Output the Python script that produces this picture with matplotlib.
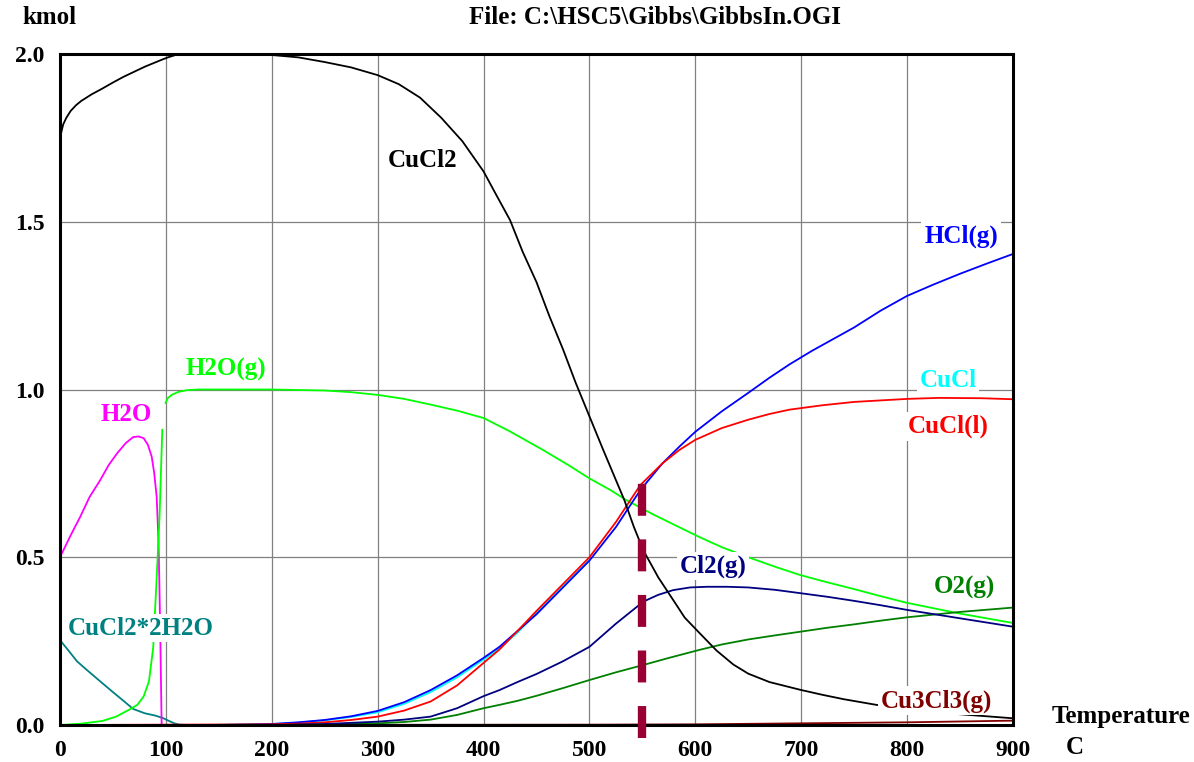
import numpy as np
import matplotlib
matplotlib.use("Agg")
import matplotlib.pyplot as plt

plt.rcParams['font.family'] = ['Liberation Serif', 'DejaVu Serif']
plt.rcParams['font.weight'] = 'bold'
plt.rcParams['lines.scale_dashes'] = False

# CuCl2 (black)
t_cucl2 = [0, 3, 6, 10, 15, 20, 30, 40, 50, 60, 70, 80, 90, 97, 102, 110, 120, 160, 200, 225,
           250, 275, 300, 320, 340, 360, 380, 400, 412, 425, 437, 450, 462, 475, 487, 500, 513,
           525, 533, 542, 551, 565, 579, 590, 604, 620, 636, 650, 670, 699, 720, 740, 771, 800,
           850, 900]
v_cucl2 = [1.75, 1.79, 1.81, 1.83, 1.847, 1.86, 1.88, 1.897, 1.915, 1.932, 1.947, 1.962, 1.975,
           1.984, 1.99, 1.998, 2.0, 2.0, 1.997, 1.99, 1.976, 1.96, 1.937, 1.91, 1.87, 1.81, 1.74,
           1.65, 1.58, 1.505, 1.41, 1.32, 1.22, 1.12, 1.02, 0.92, 0.82, 0.73, 0.67, 0.59, 0.52,
           0.44, 0.373, 0.32, 0.274, 0.222, 0.18, 0.153, 0.128, 0.105, 0.09, 0.077, 0.06, 0.047,
           0.032, 0.02]

# H2O(g) (lime) - two branches around the boiling point
t_h2og = [0, 20, 40, 53, 65, 73, 79, 84, 88, 91, 94, 96.6, np.nan, 99.7, 102, 106, 112, 120, 130,
          150, 200, 250, 275, 300, 325, 350, 375, 400, 425, 456, 480, 500, 520, 535, 560, 580,
          604, 625, 650, 675, 699, 725, 750, 775, 800, 850, 900]
v_h2og = [0, 0.004, 0.012, 0.025, 0.045, 0.06, 0.085, 0.13, 0.23, 0.42, 0.62, 0.88, np.nan, 0.96,
          0.975, 0.985, 0.993, 0.998, 1.0, 1.0, 1.0, 0.997, 0.992, 0.984, 0.972, 0.955, 0.937,
          0.915, 0.875, 0.82, 0.775, 0.735, 0.70, 0.67, 0.628, 0.597, 0.56, 0.53, 0.5, 0.472,
          0.447, 0.425, 0.405, 0.384, 0.364, 0.332, 0.304]

# H2O liquid (magenta)
t_h2o = [0, 10, 19, 28, 38, 46, 54, 62, 69, 74, 79, 83, 86.6, 89, 91.3, 93, 93.8, 94.8, 95.5, 96]
v_h2o = [0.5, 0.565, 0.62, 0.68, 0.73, 0.775, 0.81, 0.84, 0.858, 0.86, 0.855, 0.835, 0.80, 0.75,
         0.68, 0.55, 0.43, 0.25, 0.1, 0.0]

# CuCl2*2H2O (teal)
t_hyd = [0, 8, 16, 25, 38, 50, 60, 69, 80, 90, 97, 103, 108, 113, 120, 900]
v_hyd = [0.253, 0.222, 0.19, 0.165, 0.13, 0.098, 0.072, 0.048, 0.035, 0.028, 0.021, 0.012, 0.005,
         0.001, 0.0, 0.0]

# HCl(g) (blue)
t_hcl = [0, 150, 200, 225, 250, 275, 300, 325, 350, 375, 400, 415, 432, 450, 475, 500, 525, 548,
         569, 585, 600, 625, 650, 670, 689, 710, 730, 750, 775, 800, 825, 850, 875, 900]
v_hcl = [0, 0.0, 0.003, 0.008, 0.015, 0.026, 0.042, 0.068, 0.104, 0.148, 0.2, 0.233, 0.28, 0.33,
         0.41, 0.49, 0.59, 0.70, 0.78, 0.83, 0.874, 0.935, 0.99, 1.035, 1.075, 1.115, 1.15, 1.185,
         1.235, 1.279, 1.313, 1.345, 1.375, 1.404]

# CuCl (cyan)
t_cucl = [150, 200, 225, 250, 275, 300, 325, 350, 375, 400, 415, 432, 450, 475, 500]
v_cucl = [0.001, 0.003, 0.007, 0.014, 0.024, 0.038, 0.063, 0.098, 0.142, 0.195, 0.228, 0.275,
          0.335, 0.412, 0.492]

# CuCl(l) (red)
t_cucll = [0, 200, 225, 250, 275, 300, 325, 350, 375, 400, 415, 432, 450, 475, 500, 525, 548, 569,
           585, 600, 625, 650, 670, 689, 720, 750, 800, 830, 870, 900]
v_cucll = [0, 0.002, 0.004, 0.008, 0.015, 0.025, 0.043, 0.07, 0.118, 0.185, 0.225, 0.28, 0.34,
           0.42, 0.50, 0.605, 0.715, 0.78, 0.82, 0.85, 0.885, 0.91, 0.927, 0.94, 0.953, 0.963,
           0.972, 0.975, 0.974, 0.971]

# Cl2(g) (navy)
t_cl2 = [0, 200, 250, 300, 325, 350, 375, 400, 415, 432, 450, 475, 500, 525, 551, 565, 579, 595,
         611, 630, 650, 675, 699, 725, 750, 775, 800, 850, 900]
v_cl2 = [0, 0.0, 0.003, 0.01, 0.016, 0.025, 0.05, 0.086, 0.104, 0.128, 0.152, 0.19, 0.233, 0.302,
         0.368, 0.388, 0.402, 0.41, 0.412, 0.412, 0.41, 0.403, 0.393, 0.382, 0.37, 0.357, 0.343,
         0.318, 0.293]

# O2(g) (green)
t_o2 = [0, 200, 250, 300, 325, 350, 375, 400, 415, 432, 450, 475, 500, 525, 551, 575, 604, 625,
        650, 675, 699, 725, 750, 775, 800, 850, 900]
v_o2 = [0, 0.0, 0.001, 0.005, 0.009, 0.016, 0.03, 0.05, 0.06, 0.072, 0.087, 0.11, 0.134, 0.157,
        0.179, 0.2, 0.224, 0.24, 0.255, 0.267, 0.278, 0.29, 0.3, 0.311, 0.321, 0.337, 0.35]

# Cu3Cl3(g) (dark red)
t_cu3 = [0, 500, 600, 700, 800, 900]
v_cu3 = [0, 0.001, 0.002, 0.005, 0.008, 0.013]

# species that stay at zero
t_zero = [0, 900]
v_zero = [0, 0]

marker_t = 550
marker_range = [-0.04, 0.72]

fig = plt.figure(figsize=(11.94, 7.62), dpi=100)
ax = fig.add_axes([60 / 1194, 37 / 762, 953 / 1194, 671 / 762])

ax.set_xlim(0, 900)
ax.set_ylim(0, 2.0)
ax.set_xticks(range(0, 901, 100))
ax.set_yticks([0, 0.5, 1.0, 1.5, 2.0])
ax.set_yticklabels(['0.0', '0.5', '1.0', '1.5', '2.0'])
ax.grid(True, color='#808080', lw=0.9)
ax.set_axisbelow(True)
ax.tick_params(length=0, labelsize=17, pad=11)
for s in ax.spines.values():
    s.set_linewidth(2.2)
    s.set_color('black')

lw = 1.3
ax.plot(t_zero, v_zero, color='#b08080', lw=2.0)
ax.plot(t_cu3, v_cu3, color='#800000', lw=lw)
ax.plot(t_hyd, v_hyd, color='#008080', lw=lw)
ax.plot(t_h2o, v_h2o, color='#ff00ff', lw=lw)
ax.plot(t_h2og, v_h2og, color='#00ff00', lw=lw)
ax.plot(t_cucl, v_cucl, color='#00ffff', lw=lw)
ax.plot(t_hcl, v_hcl, color='#0000ff', lw=lw)
ax.plot(t_cucll, v_cucll, color='#ff0000', lw=lw)
ax.plot(t_o2, v_o2, color='#008000', lw=lw)
ax.plot(t_cl2, v_cl2, color='#000080', lw=lw)
ax.plot(t_cucl2, v_cucl2, color='black', lw=lw)

ax.plot([marker_t, marker_t], marker_range, color='#990033', lw=6,
        linestyle=(0, (23, 17)), clip_on=False, solid_capstyle='butt', zorder=5)

box = dict(facecolor='white', edgecolor='none', pad=2)
labels = [
    ('CuCl2', 342.8, 1.684, 'black'),
    ('HCl(g)', 851, 1.458, '#0000ff'),
    ('H2O(g)', 156.8, 1.061, '#00ff00'),
    ('H2O', 63, 0.924, '#ff00ff'),
    ('CuCl', 838.6, 1.028, '#00ffff'),
    ('CuCl(l)', 838.6, 0.891, '#ff0000'),
    ('Cl2(g)', 616.7, 0.474, '#000080'),
    ('O2(g)', 853.7, 0.411, '#008000'),
    ('CuCl2*2H2O', 76, 0.289, '#008080'),
    ('Cu3Cl3(g)', 828, 0.072, '#800000'),
]
for txt, x, y, c in labels:
    ax.text(x, y, txt, color=c, fontsize=18, fontweight='bold', ha='center', va='center',
            bbox=box, zorder=4)

fig.text(22 / 1194, 1 - 18 / 762, 'kmol', fontsize=18, fontweight='bold', va='center')
fig.text(655 / 1194, 1 - 18 / 762, 'File: C:\\HSC5\\Gibbs\\GibbsIn.OGI', fontsize=18,
         fontweight='bold', ha='center', va='center')
fig.text(1121 / 1194, 1 - 716 / 762, 'Temperature', fontsize=18, fontweight='bold',
         ha='center', va='center')
fig.text(1075 / 1194, 1 - 748 / 762, 'C', fontsize=18, fontweight='bold', ha='center', va='center')

fig.savefig('out.png', dpi=100, facecolor='white')
